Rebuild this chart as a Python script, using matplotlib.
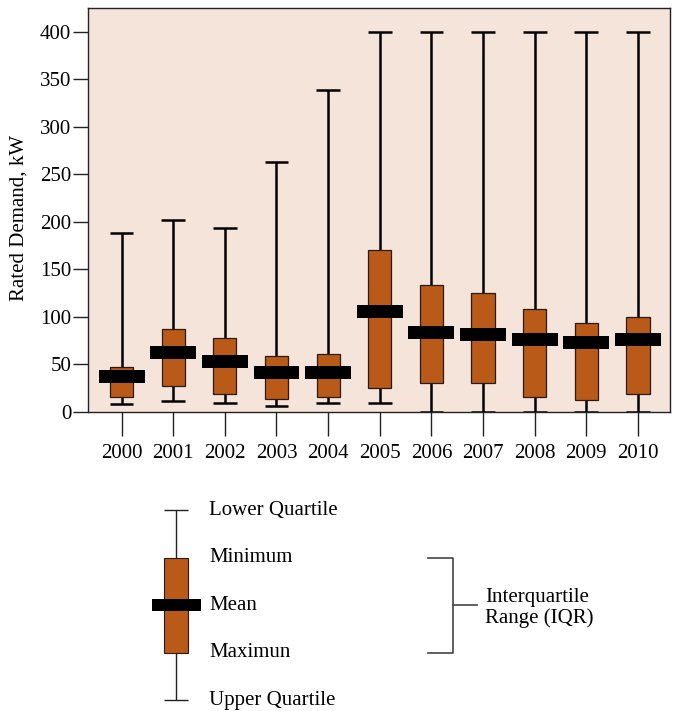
import matplotlib

matplotlib.use("Agg")
import matplotlib.pyplot as plt

plt.rcParams["font.family"] = ["Liberation Serif", "DejaVu Serif"]

# box-plot statistics, kW
years = ["2000", "2001", "2002", "2003", "2004", "2005",
         "2006", "2007", "2008", "2009", "2010"]
whisker_low = [8.5, 11.5, 9, 6, 9, 9, 0.5, 0.5, 0.5, 0.5, 0.5]
box_low = [16, 27, 19, 13.5, 16, 25, 30, 30, 15.5, 13, 18.5]
box_high = [47.5, 87, 78, 58.5, 61.5, 170, 134, 125.5, 108, 94, 100]
whisker_high = [188, 202, 194, 263.5, 339, 400, 400, 400, 400, 400, 400]
means = [37.5, 62.5, 53, 41.5, 41.5, 106, 84, 81.5, 76.5, 73, 76.5]
y_ticks = [0, 50, 100, 150, 200, 250, 300, 350, 400]

legend_labels = ["Lower Quartile", "Minimum", "Mean", "Maximun", "Upper Quartile"]
iqr_label = "Interquartile\nRange (IQR)"

BG = "#f5e4d9"
BOX = "#b95a19"
W, H = 674, 711
FS = 15


def draw_chart(fig):
    ax = fig.add_axes([88 / W, 1 - 412 / H, (670 - 88) / W, (412 - 7.5) / H])
    ax.set_facecolor(BG)
    x = list(range(len(years)))

    ax.vlines(x, whisker_low, whisker_high, color="black", lw=1.8, zorder=2)
    ax.hlines(whisker_high, [i - 0.23 for i in x], [i + 0.23 for i in x],
              color="black", lw=1.8, zorder=2)
    ax.hlines(whisker_low, [i - 0.23 for i in x], [i + 0.23 for i in x],
              color="black", lw=1.8, zorder=2)
    heights = [h - l for h, l in zip(box_high, box_low)]
    ax.bar(x, heights, bottom=box_low, width=0.45, color=BOX,
           edgecolor="#2a1a10", linewidth=0.9, zorder=3)
    ax.bar(x, [13.4] * len(x), bottom=[m - 6.7 for m in means], width=0.89,
           color="black", linewidth=0, zorder=4)

    ax.set_xlim(-0.65, 10.62)
    ax.set_ylim(0, 425.7)
    ax.set_xticks(x)
    ax.set_xticklabels(years, fontsize=FS)
    ax.set_yticks(y_ticks)
    ax.set_yticklabels([str(t) for t in y_ticks], fontsize=FS)
    ax.tick_params(axis="y", length=11, width=1.0, pad=1, color="#222222")
    ax.tick_params(axis="x", length=17, width=1.0, pad=6, color="#222222")
    for s in ax.spines.values():
        s.set_color("#222222")
        s.set_linewidth(1.0)
    fig.text(19 / W, 1 - 218 / H, "Rated Demand, kW", rotation=90,
             ha="center", va="center", fontsize=FS)


def draw_key(fig):
    # schematic of one box, drawn in pixel units
    k = fig.add_axes([0, 0, 1, 1], facecolor="none")
    k.set_xlim(0, W)
    k.set_ylim(H, 0)
    k.axis("off")
    cx = 176
    ys = [510, 557.5, 605, 652.5, 700]
    k.vlines(cx, ys[0], ys[-1], color="#222222", lw=1.0, zorder=1)
    k.hlines([ys[0], ys[-1]], cx - 12, cx + 12, color="#222222", lw=1.0)
    k.add_patch(plt.Rectangle((cx - 12, ys[1]), 24, ys[3] - ys[1],
                              facecolor=BOX, edgecolor="#2a1a10", lw=0.8, zorder=2))
    k.add_patch(plt.Rectangle((cx - 24.5, ys[2] - 6), 49, 12,
                              facecolor="black", lw=0, zorder=3))
    for y, lab in zip(ys, legend_labels):
        k.text(209, y, lab, ha="left", va="center", fontsize=FS)
    k.plot([428, 453, 453, 428], [ys[1], ys[1], ys[3], ys[3]],
           color="#444444", lw=1.2)
    k.plot([453, 477], [ys[2], ys[2]], color="#444444", lw=1.2)
    k.text(485, ys[2] + 3, iqr_label, ha="left", va="center",
           fontsize=FS, linespacing=1.1)


def main():
    fig = plt.figure(figsize=(W / 100, H / 100), dpi=100)
    draw_chart(fig)
    draw_key(fig)
    fig.savefig("out.png", dpi=100)
    plt.close(fig)


if __name__ == "__main__":
    main()
